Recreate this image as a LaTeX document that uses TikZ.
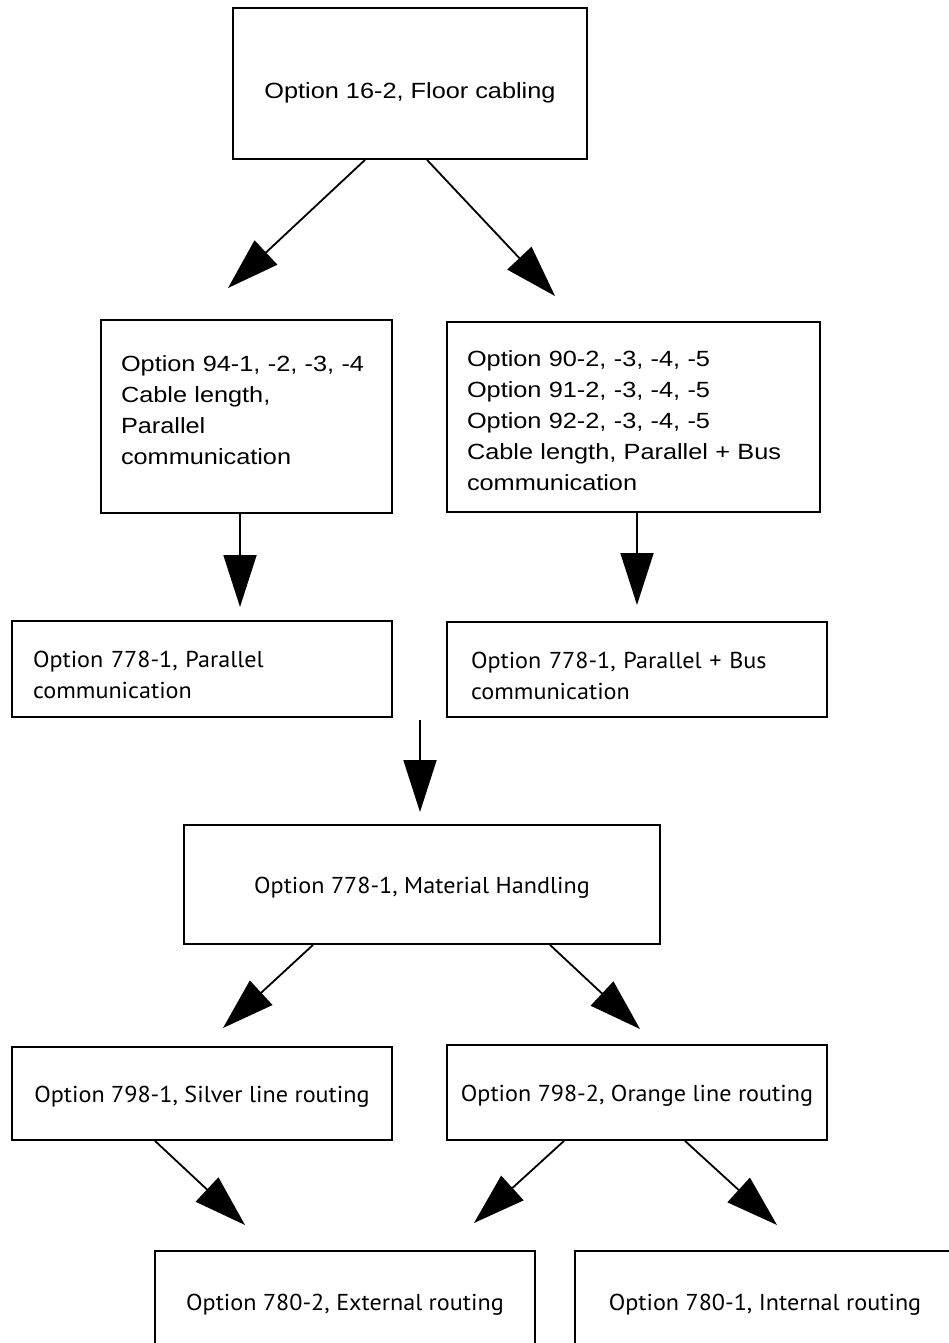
\documentclass[tikz,border=0pt]{standalone}
\usepackage{fontspec}
\usepackage{tikz}
\usetikzlibrary{arrows.meta, positioning, calc}
\newfontfamily\arialfont[FakeStretch=1.15]{Liberation Sans}
\newfontfamily\myriadfont[FakeStretch=1.05]{PT Sans}

\begin{document}
\begin{tikzpicture}[x=1pt, y=-1pt,
  optbox/.style={draw, line width=1.8pt, inner sep=0pt},
  afont/.style={font=\arialfont\fontsize{22}{31}\selectfont, inner sep=0pt},
  mfont/.style={font=\myriadfont\fontsize{23}{31}\selectfont, inner sep=0pt},
  oneline/.style={text height=20pt, text depth=2pt},
  arr/.style={-{Triangle[length=52pt, width=33pt]}, line width=1.8pt}]
  \clip (0,0) rectangle (949,1343);
  % Floor cabling
  \node[optbox, afont, text height=33pt, text depth=2pt, minimum width=354pt, minimum height=151pt] (floor) at (410,83.5)
    {Option 16-2, Floor cabling};
  % Cable length
  \node[optbox, minimum width=291pt, minimum height=193pt] (par) at (246.5,416.5) {};
  \node[afont, text width=251pt, align=left] (partxt) at ([yshift=6.5pt]par.center)
    {Option 94-1, -2, -3, -4\\Cable length,\\Parallel\\communication};
  \node[optbox, minimum width=373pt, minimum height=190pt] (bus) at (633.5,417) {};
  \node[afont, text width=333pt, align=left] (bustxt) at ([yshift=-4pt]bus.center)
    {Option 90-2, -3, -4, -5\\Option 91-2, -3, -4, -5\\Option 92-2, -3, -4, -5\\Cable length, Parallel + Bus\\communication};
  % Option 778-1
  \node[optbox, minimum width=380pt, minimum height=96pt] (pcom) at (202,669) {};
  \node[mfont, text width=338pt, align=left] (pcomtxt) at ([yshift=-6pt]pcom.center)
    {Option 778-1, Parallel\\communication};
  \node[optbox, minimum width=380pt, minimum height=95pt] (bcom) at (637,669.5) {};
  \node[mfont, text width=332pt, align=left] (bcomtxt) at ([yshift=-6pt]bcom.center)
    {Option 778-1, Parallel + Bus\\communication};
  \node[optbox, mfont, oneline, minimum width=476pt, minimum height=119pt] (mat) at (422,884.5)
    {Option 778-1, Material Handling};
  % Line routing
  \node[optbox, mfont, oneline, minimum width=380pt, minimum height=93pt] (silver) at (202,1093.5)
    {Option 798-1, Silver line routing};
  \node[optbox, mfont, oneline, minimum width=380pt, minimum height=95pt] (orange) at (637,1092.5)
    {Option 798-2, Orange line routing};
  \node[optbox, mfont, oneline, minimum width=380pt, minimum height=100pt] (ext) at (345,1301)
    {Option 780-2, External routing};
  \node[optbox, mfont, oneline, minimum width=380pt, minimum height=100pt] (int) at (765,1301)
    {Option 780-1, Internal routing};

  % arrow tips
  \coordinate (t1) at (228,288);
  \coordinate (t2) at (555,296);
  \coordinate (t3) at (240,607);
  \coordinate (t4) at (637,605);
  \coordinate (m0) at (420,720);
  \coordinate (t5) at (420,812);
  \coordinate (t6) at (223,1028);
  \coordinate (t7) at (640,1029);
  \coordinate (t8) at (245,1225);
  \coordinate (t9) at (474,1223);
  \coordinate (t10) at (777,1225);

  \draw[arr] ([xshift=-45pt]floor.south) -- (t1);
  \draw[arr] ([xshift=17pt]floor.south) -- (t2);
  \draw[arr] (t3 |- par.south) -- (t3);
  \draw[arr] (t4 |- bus.south) -- (t4);
  \draw[arr] (m0) -- (t5);
  \draw[arr] ([xshift=-109pt]mat.south) -- (t6);
  \draw[arr] ([xshift=128pt]mat.south) -- (t7);
  \draw[arr] ([xshift=-47pt]silver.south) -- (t8);
  \draw[arr] ([xshift=-73pt]orange.south) -- (t9);
  \draw[arr] ([xshift=48pt]orange.south) -- (t10);
\end{tikzpicture}
\end{document}
